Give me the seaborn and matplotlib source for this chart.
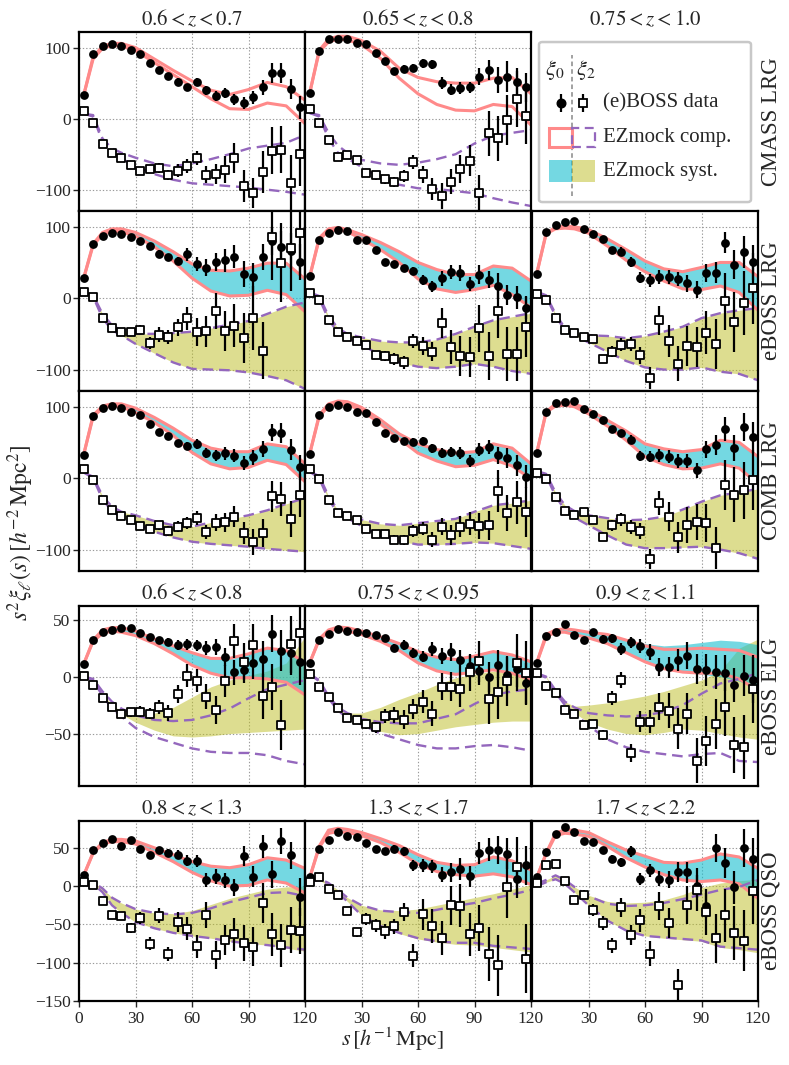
import numpy as np
import pandas as pd
import matplotlib
matplotlib.use("Agg")
import matplotlib.pyplot as plt
import seaborn as sns
from matplotlib.patches import Rectangle, FancyBboxPatch

# ---------------- data ----------------
S_BIN = [2.5, 7.5, 12.5, 17.5, 22.5, 27.5, 32.5, 37.5, 42.5, 47.5, 52.5, 57.5,
         62.5, 67.5, 72.5, 77.5, 82.5, 87.5, 92.5, 97.5, 102.5, 107.5, 112.5, 117.5]
S_LINE = [2.5, 7.5, 12.5, 17.5, 22.5, 30, 40, 50, 60, 70, 80, 90, 100, 110, 120]

ROW_LABELS = ["CMASS LRG", "eBOSS LRG", "COMB LRG", "eBOSS ELG", "eBOSS QSO"]
TITLES_LRG = [r"$0.6 < z < 0.7$", r"$0.65 < z < 0.8$", r"$0.75 < z < 1.0$"]
TITLES_ELG = [r"$0.6 < z < 0.8$", r"$0.75 < z < 0.95$", r"$0.9 < z < 1.1$"]
TITLES_QSO = [r"$0.8 < z < 1.3$", r"$1.3 < z < 1.7$", r"$1.7 < z < 2.2$"]
LEGEND_LABELS = ["(e)BOSS data", "EZmock comp.", "EZmock syst."]

# CMASS LRG, 0.6<z<0.7
CM1_X0 = [33.8, 91.5, 102.8, 105, 102, 96.7, 91, 79, 68, 59.6, 51.6, 44, 51.6, 40, 32, 36.6, 27, 22, 30, 44, 64, 64, 42, 16]
CM1_E0 = [2, 3, 3, 3, 3, 3, 3, 3, 3, 4, 5, 5, 6, 6, 7, 7, 8, 9, 9, 10, 14, 14, 14, 16]
CM1_X2 = [11.3, -6, -35, -48, -55, -65, -74, -71, -69.5, -79, -73, -67, -55, -79, -78, -72, -55, -95, -105, -75, -45, -44, -91, -50]
CM1_E2 = [2, 2, 3, 3, 4, 4, 5, 6, 7, 7, 9, 10, 10, 12, 14, 19, 21, 23, 21, 30, 33, 33, 40, 45]
CM1_C0H = [33, 87, 102, 106, 106, 100, 84, 68, 53, 40, 34, 41, 51, 45, 26]
CM1_C0L = [33, 84, 99, 103, 102, 96, 79, 62, 45, 28, 14, 13, 22, 18, -7]
CM1_C2H = [7, 5, -28, -42, -48, -55, -63, -67, -63, -57, -50, -42, -38, -34, -23]
CM1_C2L = [7, 3, -33, -48, -56, -67, -78, -86, -91, -93, -95, -97, -100, -103, -107]

# CMASS LRG, 0.65<z<0.8
CM2_X0 = [35.7, 95.8, 112, 112, 111.7, 106, 105, 93, 81.7, 67, 70, 71, 78, 76.5, 50, 41, 43, 44, 59, 68.5, 54.5, 59, 52, 44]
CM2_E0 = [2, 3, 3, 3, 3, 3, 3, 3, 4, 4, 6, 6, 6, 6, 8, 8, 8, 8, 12, 14, 18, 22, 20, 20]
CM2_X2 = [13, -6, -30.5, -54.5, -51.6, -58.7, -76, -80, -85.4, -88.7, -80.8, -61.5, -78, -99, -109, -88.7, -71, -59, -104, -20.7, -27.7, -2, 27.7, 4.2]
CM2_E2 = [2, 2, 3, 3, 4, 4, 5, 6, 6, 7, 8, 10, 12, 15, 18, 18, 20, 22, 25, 32, 32, 35, 40, 40]
CM2_C0H = [36, 96, 112, 116, 116, 110, 95, 71, 58, 52, 50, 50, 57, 58, 35]
CM2_C0L = [36, 94, 108, 112, 111, 104, 85, 57, 35, 20, 12, 11, 20, 17, -9]
CM2_C2H = [8, 5, -20, -38, -48, -58, -63, -65, -62, -57, -50, -35, -24, -20, -16]
CM2_C2L = [8, 3, -28, -48, -56, -68, -84, -93, -98, -99, -102, -105, -112, -118, -123]

# eBOSS LRG
LR1_X0 = [27.6, 76, 87, 91.6, 90, 85, 80, 73, 61.7, 57, 52, 61.7, 47.7, 42.5, 50.5, 52.8, 58, 33.6, 29, 57.5, 80, 72, 66, 51]
LR1_E0 = [2, 3, 3, 3, 3, 3, 4, 4, 5, 5, 6, 9, 10, 12, 13, 16, 16, 18, 20, 18, 20, 22, 25, 25]
LR1_X2 = [8.4, 1.9, -27.6, -42.5, -48, -47, -44, -62.6, -51, -54, -41, -28, -47.7, -46.7, -18, -45.8, -38.8, -55.6, -28, -73.8, 85, 49.5, 69.6, 90.6]
LR1_E2 = [2, 2, 3, 4, 4, 5, 6, 8, 10, 10, 12, 16, 20, 22, 25, 28, 30, 35, 45, 40, 60, 55, 60, 60]
LR1_C0H = [28, 76, 92, 97, 97, 92, 80, 65, 48, 39, 38, 42, 49, 49, 27]
LR1_C0L = [28, 74, 89, 94, 93, 87, 72, 52, 28, 10, 3, 4, 11, 5, -19]
LR1_C2H = [8, 4, -22, -38, -45, -50, -50, -49, -47, -42, -37, -32, -22, -12, -6]
LR1_C2L = [8, 2, -28, -45, -52, -64, -77, -90, -99, -100, -101, -104, -109, -115, -127]

LR2_X0 = [30.4, 82, 91, 95, 94, 81, 81, 68, 51, 47.7, 41.6, 37.9, 24.8, 16.4, 27.6, 37, 35.5, 20, 33, 25.7, 16.8, 3.7, 1.4, -13.6]
LR2_E0 = [2, 3, 3, 3, 3, 3, 3, 3, 4, 4, 5, 6, 7, 8, 10, 10, 11, 10, 13, 12, 18, 14, 16, 16]
LR2_X2 = [7.5, -2, -30.4, -47.7, -54, -60, -65, -80, -81, -85.5, -89.7, -60, -67, -75, -35.5, -68, -81, -83, -42.5, -81, -18.7, -78, -78.5, -40.7]
LR2_E2 = [2, 2, 3, 3, 3, 4, 4, 5, 7, 8, 9, 10, 12, 13, 21, 24, 28, 28, 33, 33, 37, 38, 38, 42]
LR2_C0H = [30, 84, 97, 99, 96, 89, 78, 65, 50, 40, 33, 33, 45, 42, 24]
LR2_C0L = [30, 82, 94, 96, 93, 83, 68, 50, 27, 13, 8, 12, 18, 5, -13]
LR2_C2H = [8, 3, -25, -42, -50, -55, -60, -62, -62, -58, -50, -40, -31, -26, -21]
LR2_C2L = [8, 0, -30, -48, -56, -65, -80, -90, -96, -98, -96, -92, -96, -102, -106]

LR3_X0 = [33.6, 92.5, 103, 106.5, 108.4, 97, 90, 82.7, 67, 65, 50.5, 28.5, 25, 30, 30, 27, 20.6, 12, 35.5, 35.5, 77.6, 47, 64.5, 50]
LR3_E0 = [2, 3, 3, 3, 3, 3, 3, 3, 5, 6, 7, 8, 9, 10, 10, 10, 12, 12, 13, 15, 15, 20, 22, 25]
LR3_X2 = [5.6, -3.3, -28, -45, -49.5, -54, -57.5, -85, -75, -65.4, -64.5, -80, -112, -31, -60, -91.6, -67, -69, -48.6, -64, -4.2, -33.6, -7, 13.6]
LR3_E2 = [2, 2, 3, 3, 3, 4, 4, 6, 8, 9, 10, 12, 15, 20, 23, 25, 28, 28, 30, 35, 40, 42, 45, 50]
LR3_C0H = [34, 91, 99, 101, 100, 96, 83, 68, 52, 41, 37, 43, 50, 50, 30]
LR3_C0L = [34, 90, 97, 98, 97, 91, 73, 53, 37, 24, 13, 12, 17, 8, -17]
LR3_C2H = [9, 4, -22, -42, -48, -52, -53, -56, -53, -47, -40, -28, -21, -17, -14]
LR3_C2L = [9, 2, -25, -45, -52, -62, -75, -88, -97, -100, -100, -97, -103, -106, -115]

# COMB LRG
CO1_X0 = [33, 87, 98.6, 100.5, 97.7, 92, 88, 75.7, 64.5, 59, 49, 45, 47.7, 34.6, 32, 35, 31.3, 21, 29, 41, 64.5, 63.5, 39.7, 15]
CO1_E0 = [2, 3, 3, 3, 3, 3, 3, 3, 3, 4, 5, 6, 7, 7, 8, 9, 9, 10, 11, 11, 12, 14, 15, 18]
CO1_X2 = [12.6, -2.8, -31.3, -45.3, -53, -59, -67, -71, -66, -74, -68, -63, -56, -75, -62.6, -62, -54, -77, -89, -77, -25.7, -29.4, -57.5, -24.3]
CO1_E2 = [2, 2, 3, 3, 3, 4, 4, 5, 6, 7, 8, 8, 10, 10, 12, 13, 15, 15, 18, 20, 22, 24, 25, 30]
CO1_C0H = [33, 88, 101, 104, 104, 98, 85, 70, 53, 42, 37, 37, 48, 44, 20]
CO1_C0L = [33, 86, 98, 101, 100, 92, 78, 60, 36, 20, 13, 15, 25, 19, -5]
CO1_C2H = [8, 2, -25, -40, -47, -52, -60, -66, -68, -62, -57, -52, -45, -36, -28]
CO1_C2L = [8, 0, -30, -46, -55, -63, -75, -83, -89, -92, -94, -96, -99, -101, -103]

CO2_X0 = [33.6, 88, 100, 103, 100, 93, 90.6, 78, 62.6, 56.5, 52, 51, 52, 41.6, 34.6, 37, 35.5, 24, 40, 44, 32, 27.6, 18, 2]
CO2_E0 = [2, 3, 3, 3, 3, 3, 3, 3, 3, 4, 4, 5, 6, 6, 7, 7, 8, 9, 9, 10, 12, 14, 15, 16]
CO2_X2 = [13, -1.4, -30.4, -48.6, -53, -59, -70.6, -77.6, -78, -86, -87, -74, -70.6, -86, -68, -80, -68, -63.6, -67, -66, -18, -48.6, -34, -47]
CO2_E2 = [2, 2, 3, 3, 3, 4, 4, 5, 5, 6, 7, 8, 9, 10, 12, 14, 15, 16, 18, 20, 30, 25, 30, 35]
CO2_C0H = [34, 88, 104, 108, 107, 99, 82, 62, 48, 40, 35, 37, 48, 42, 20]
CO2_C0L = [34, 86, 101, 104, 103, 95, 76, 55, 35, 24, 16, 18, 26, 17, -1]
CO2_C2H = [9, 3, -25, -45, -52, -58, -64, -66, -63, -60, -57, -47, -38, -35, -31]
CO2_C2L = [9, 0, -30, -49, -56, -67, -80, -88, -93, -93, -92, -90, -91, -95, -99]

CO3_X0 = [34.6, 92, 104.7, 107, 108, 96.7, 90, 82, 68.7, 62.6, 54, 31.3, 30, 32, 30, 23.8, 23.8, 10.7, 40.6, 46, 68.7, 42.5, 71.5, 57]
CO3_E0 = [2, 3, 3, 3, 3, 3, 3, 3, 3, 4, 6, 7, 8, 9, 9, 10, 10, 11, 12, 14, 17, 18, 20, 22]
CO3_X2 = [7.5, -1.9, -26, -46.7, -51.9, -47.7, -59, -82, -66, -57.5, -68, -74, -113.5, -35, -53.7, -82.7, -66, -61, -62.6, -97.7, -9.8, -23, -17, -2.3]
CO3_E2 = [2, 2, 3, 3, 3, 4, 4, 6, 8, 9, 10, 11, 14, 17, 20, 22, 25, 25, 27, 30, 35, 38, 40, 42]
CO3_C0H = [35, 93, 104, 106, 104, 96, 81, 66, 48, 41, 37, 40, 53, 50, 30]
CO3_C0L = [35, 92, 101, 102, 100, 90, 73, 53, 30, 19, 13, 14, 20, 14, -8]
CO3_C2H = [10, 6, -20, -38, -46, -52, -56, -59, -58, -54, -44, -33, -24, -20, -15]
CO3_C2L = [10, 3, -25, -45, -55, -66, -80, -93, -98, -98, -97, -96, -100, -105, -113]

# eBOSS ELG
EG1_X0 = [11, 31.9, 38.9, 41.2, 42.7, 42.7, 38.3, 34.5, 31.9, 30.4, 27.8, 28.4, 27.5, 25.4, 25.7, 17.3, 3.8, 6.1, 12, 15.5, 37.7, 22.8, 21, 12.9]
EG1_E0 = [1.5, 1.5, 1.5, 1.5, 1.5, 2, 2, 2.5, 3, 3.5, 4, 5, 5, 6, 7, 8, 11, 12, 14, 16, 16, 18, 20, 20]
EG1_X2 = [0.3, -7.3, -18.7, -26.6, -32.7, -31.3, -30.7, -32.5, -26.9, -31.9, -15.5, 0.9, -3.5, -17.5, -29.2, -4.1, 31.6, 13.2, 28, -17.3, -9, -42.7, 28.6, 38.3]
EG1_E2 = [1, 1, 1.5, 2, 3, 4, 5, 5, 6, 7, 8, 10, 10, 11, 12, 14, 15, 16, 18, 20, 20, 22, 25, 28]
EG1_C0H = [11, 32, 41, 43, 43, 40, 33, 27, 21, 16, 16, 20, 25, 23, 12]
EG1_C0L = [11, 31, 38, 40, 39, 36, 29, 20, 10, 3, -1, -1, -2, -5, -16]
EG1_C2H = [0, -2, -13, -22, -28, -34, -38, -39, -38, -34, -28, -19, -11, -7, -3]
EG1_C2L = [0, -3, -17, -28, -35, -45, -53, -58, -63, -66, -67, -67, -69, -74, -77]
EG1_B2H = [0, -2, -14, -25, -30, -33, -32, -27, -18, -9, -3, 1, 5, 12, 35]
EG1_B2L = [0, -3, -16, -27, -33, -40, -47, -52, -53, -52, -50, -49, -48, -47, -46]

EG2_X0 = [12, 32.2, 37.7, 42.1, 40.4, 39.2, 38, 36.3, 33.6, 25.1, 27.8, 20.8, 17.5, 24.3, 18.4, 21.6, 14.3, 9, 4.7, -0.3, 10.2, 1.8, 7, -5.8]
EG2_E0 = [1.5, 1.5, 1.5, 1.5, 1.5, 1.5, 2, 2, 3, 3.5, 4, 4.5, 5, 6, 7, 8, 9, 10, 12, 13, 13, 15, 16, 18]
EG2_X2 = [2, -9.4, -17.8, -27.5, -36.5, -38.3, -41.8, -44.4, -34.8, -33.3, -37.7, -28.4, -21.9, -32.7, -8.8, -8.8, -10.8, 3.8, 13.5, -20, -13.5, -4.1, 12, 3.5]
EG2_E2 = [1, 1, 1.5, 2, 3, 3.5, 4, 5, 6, 7, 8, 9, 10, 11, 12, 13, 16, 16, 18, 22, 24, 22, 25, 28]
EG2_C0H = [12, 33, 41, 43.5, 43, 40, 35, 29, 22, 17, 15, 18, 22, 19, 13]
EG2_C0L = [12, 32, 40, 42, 40, 37, 31, 23, 12, 5, 2, 4, 6, 3, -3]
EG2_C2H = [2, -3, -17, -27, -32, -37, -40, -41, -41, -37, -33, -24, -16, -13, -11]
EG2_C2L = [2, -4, -19, -30, -36, -42, -50, -55, -60, -63, -63, -61, -60, -62, -65]
EG2_B2H = [2, -3, -17, -28, -32, -32, -27, -20, -14, -7, -1, 2, 5, 3, -1]
EG2_B2L = [2, -4, -19, -30, -36, -42, -48, -51, -50, -47, -44, -42, -40, -39, -39]

EG3_X0 = [12, 35.7, 39.5, 46.5, 36.5, 32.5, 38.9, 33.3, 33.6, 24.3, 30.1, 26.6, 22, 8.2, 8.2, 14.6, 18.4, 6.7, 5.8, 3.8, 3.2, -7.6, 0.9, -3.2]
EG3_E0 = [1.5, 1.5, 1.5, 1.5, 1.5, 2, 2, 3, 4, 5, 5, 6, 7, 8, 9, 10, 12, 13, 14, 15, 16, 15, 18, 20]
EG3_X2 = [2.9, -8.5, -14.3, -29.2, -32.5, -42.4, -41.5, -51.2, -19, -2.6, -67, -39.5, -39.5, -26.3, -29.8, -45.6, -32.7, -73.7, -56.7, -41.8, -26.9, -60, -62, -11.1]
EG3_E2 = [1, 1, 1.5, 2, 2.5, 3, 3.5, 4, 6, 7, 8, 9, 10, 12, 15, 18, 18, 20, 22, 22, 25, 25, 28, 30]
EG3_C0H = [12, 37, 41, 42, 41, 39, 37, 32, 27, 24, 24, 25, 24, 23, 17]
EG3_C0L = [12, 35, 39, 39, 37, 34, 29, 21, 13, 7, 4, 3, 3, -2, -12]
EG3_B0H = [12, 37, 41, 42, 41, 39, 37, 33, 29, 27, 28, 30, 32, 31, 28]
EG3_B0L = [12, 35, 39, 39, 37, 34, 29, 21, 13, 7, 4, 2, 0, -4, -10]
EG3_C2H = [3, 0, -12, -22, -27, -32, -34, -35, -34, -31, -25, -15, -6, -2, 3]
EG3_C2L = [3, -1, -14, -25, -32, -43, -55, -62, -66, -68, -70, -68, -67, -74, -75]
EG3_B2H = [3, 0, -12, -22, -26, -25, -23, -20, -17, -13, -8, -3, 5, 25, 33]
EG3_B2L = [3, -1, -14, -26, -32, -40, -46, -50, -51, -49, -46, -47, -50, -53, -55]

# eBOSS QSO
QS1_X0 = [14.3, 47, 56, 61.7, 52, 60, 49, 40.4, 47.4, 43, 40.9, 33, 33, 8.3, 12.2, 7.4, -1.3, 39, 12.2, 52, 15.2, 58.7, 40, -14]
QS1_E0 = [3, 3, 3, 3, 3, 3, 3, 4, 4, 5, 6, 7, 8, 9, 10, 10, 11, 13, 14, 15, 18, 17, 18, 25]
QS1_X2 = [5.2, 1.7, -19, -37.4, -38.7, -54.8, -42, -75, -38.7, -88.7, -46.5, -55.7, -78.7, -38.3, -90, -70.4, -63, -74.3, -79, -22, -62.6, -77.4, -57.8, -58.7]
QS1_E2 = [2, 2, 3, 4, 5, 6, 8, 8, 10, 9, 13, 15, 15, 17, 18, 20, 22, 24, 25, 26, 28, 28, 30, 30]
QS1_C0H = [14, 44, 57, 61, 61, 59, 50, 41, 32, 26, 24, 28, 37, 34, 23]
QS1_C0L = [14, 43, 55, 58, 58, 55, 44, 32, 18, 7, 0, 1, 8, 4, -9]
QS1_C2H = [3, 5, -3, -15, -22, -30, -35, -37, -35, -29, -21, -15, -9, -8, -13]
QS1_C2L = [3, 3, -8, -25, -35, -47, -55, -61, -65, -68, -72, -75, -77, -80, -83]
QS1_B2H = [3, 5, -3, -15, -22, -30, -35, -36, -32, -24, -16, -10, -4, -1, 0]
QS1_B2L = [3, 3, -8, -25, -35, -47, -55, -61, -65, -68, -72, -75, -77, -81, -85]

QS2_X0 = [11.3, 48.7, 60.4, 70.4, 66, 64, 56, 48.3, 45.2, 48.7, 45.7, 27, 27, 25.7, 14.8, 17.8, 22.2, 12.6, 43, 47.4, 47.4, 42.2, 9.1, 27]
QS2_E0 = [3, 3, 3, 3, 3, 3, 3, 4, 4, 5, 6, 7, 8, 9, 10, 13, 14, 14, 14, 15, 18, 20, 20, 25]
QS2_X2 = [4.8, 11.3, -4, -11.7, -32, -60.4, -43, -51.3, -59, -52.6, -34, -90.9, -37, -51.7, -67.4, -25.2, -25.7, -62.6, -54.8, -88.3, -103.5, -1.7, 24.3, -94.8]
QS2_E2 = [2, 2, 3, 4, 5, 6, 8, 9, 10, 10, 12, 15, 20, 22, 22, 25, 28, 28, 30, 35, 40, 40, 40, 45]
QS2_C0H = [11, 52, 73, 75.5, 74, 70, 62, 53, 41, 31, 27, 28, 38, 33, 21]
QS2_C0L = [11, 50, 69, 71, 70, 66, 57, 44, 29, 19, 15, 13, 16, 12, 2]
QS2_C2H = [6, 10, 4, -5, -15, -25, -32, -34, -35, -31, -26, -22, -16, -11, -5]
QS2_C2L = [6, 8, 0, -9, -20, -38, -52, -61, -68, -72, -74, -74, -78, -80, -82]
QS2_B2H = [6, 10, 4, -5, -15, -25, -31, -32, -30, -25, -20, -15, -10, -4, 2]
QS2_B2L = [6, 8, 0, -9, -20, -38, -52, -62, -69, -73, -76, -77, -80, -83, -86]

QS3_X0 = [11.3, 44.3, 67.8, 77.8, 70.4, 59, 57, 46.5, 36, 31.3, 45.2, 9.6, 20.4, 9.6, 8.3, 18.7, 17.8, -0.4, -25.6, 49.6, 30, -1.7, 49.6, 35.2]
QS3_E0 = [3, 3, 3, 3, 3, 3, 3, 4, 5, 6, 7, 8, 9, 10, 11, 13, 14, 15, 16, 18, 20, 22, 25, 28]
QS3_X2 = [4.3, 27, 29, 7, -18.3, -11.3, -30.9, -48.3, -77.4, -27.8, -64.3, -44.8, -88.3, -25.7, -48.3, -129.6, -24.8, -4.8, -33.5, -67.8, -38.3, -61.3, -71.3, -7]
QS3_E2 = [3, 3, 3, 4, 5, 6, 8, 9, 10, 12, 13, 15, 16, 18, 20, 22, 25, 28, 30, 32, 35, 35, 40, 42]
QS3_C0H = [11, 43, 69, 73.5, 73, 70, 58, 47, 39, 31, 30, 34, 42, 38, 23]
QS3_C0L = [11, 42, 66, 69, 68, 65, 52, 37, 25, 15, 8, 6, 8, 3, -16]
QS3_C2H = [3, 8, 14, 8, -1, -13, -23, -26, -25, -22, -17, -11, -5, -1, 8]
QS3_C2L = [0, 5, 9, 3, -8, -25, -45, -58, -65, -67, -69, -71, -79, -81, -83]
QS3_B2H = [3, 8, 14, 8, -1, -12, -20, -22, -21, -18, -11, -2, 4, 7, 9]
QS3_B2L = [0, 5, 9, 3, -8, -25, -45, -58, -65, -68, -70, -72, -80, -83, -87]

# ---------------- style ----------------
PINK = "#ff8a8a"
PURPLE = "#9467bd"
CYAN = "#17becf"
OLIVE = "#bcbd22"

sns.set_theme(style="ticks")
plt.rcParams["font.family"] = ["Liberation Serif", "DejaVu Serif"]
plt.rcParams["mathtext.fontset"] = "stix"
plt.rcParams["axes.unicode_minus"] = True

W, H = 789, 1065
fig = plt.figure(figsize=(W / 100, H / 100), dpi=100)

COL_LEFT = [79, 305, 532]
COL_W = 226
ROW_SPAN = [(32, 211), (211, 391), (391, 571), (606, 786), (821, 1001)]
ROW_YLIM = [(-130, 122), (-130, 122), (-130, 122), (-96, 62), (-150, 85)]
ROW_YTICKS = [[-100, 0, 100], [-100, 0, 100], [-100, 0, 100], [-50, 0, 50], [-150, -100, -50, 0, 50]]

TITLE_FS = 15
TICK_FS = 12.5
ROWLAB_FS = 16.5
AXLAB_FS = 16
LEG_FS = 15


def make_ax(r, c):
    t, b = ROW_SPAN[r]
    return fig.add_axes([COL_LEFT[c] / W, 1 - b / H, COL_W / W, (b - t) / H])


def def_or(v, d):
    return d if v is None else v


PANELS = [
    dict(r=0, c=0, x0=CM1_X0, e0=CM1_E0, x2=CM1_X2, e2=CM1_E2, c0h=CM1_C0H, c0l=CM1_C0L, c2h=CM1_C2H, c2l=CM1_C2L, band=False),
    dict(r=0, c=1, x0=CM2_X0, e0=CM2_E0, x2=CM2_X2, e2=CM2_E2, c0h=CM2_C0H, c0l=CM2_C0L, c2h=CM2_C2H, c2l=CM2_C2L, band=False),
    dict(r=1, c=0, x0=LR1_X0, e0=LR1_E0, x2=LR1_X2, e2=LR1_E2, c0h=LR1_C0H, c0l=LR1_C0L, c2h=LR1_C2H, c2l=LR1_C2L, band=True),
    dict(r=1, c=1, x0=LR2_X0, e0=LR2_E0, x2=LR2_X2, e2=LR2_E2, c0h=LR2_C0H, c0l=LR2_C0L, c2h=LR2_C2H, c2l=LR2_C2L, band=True),
    dict(r=1, c=2, x0=LR3_X0, e0=LR3_E0, x2=LR3_X2, e2=LR3_E2, c0h=LR3_C0H, c0l=LR3_C0L, c2h=LR3_C2H, c2l=LR3_C2L, band=True),
    dict(r=2, c=0, x0=CO1_X0, e0=CO1_E0, x2=CO1_X2, e2=CO1_E2, c0h=CO1_C0H, c0l=CO1_C0L, c2h=CO1_C2H, c2l=CO1_C2L, band=True),
    dict(r=2, c=1, x0=CO2_X0, e0=CO2_E0, x2=CO2_X2, e2=CO2_E2, c0h=CO2_C0H, c0l=CO2_C0L, c2h=CO2_C2H, c2l=CO2_C2L, band=True),
    dict(r=2, c=2, x0=CO3_X0, e0=CO3_E0, x2=CO3_X2, e2=CO3_E2, c0h=CO3_C0H, c0l=CO3_C0L, c2h=CO3_C2H, c2l=CO3_C2L, band=True),
    dict(r=3, c=0, x0=EG1_X0, e0=EG1_E0, x2=EG1_X2, e2=EG1_E2, c0h=EG1_C0H, c0l=EG1_C0L, c2h=EG1_C2H, c2l=EG1_C2L, band=True,
         b2h=EG1_B2H, b2l=EG1_B2L),
    dict(r=3, c=1, x0=EG2_X0, e0=EG2_E0, x2=EG2_X2, e2=EG2_E2, c0h=EG2_C0H, c0l=EG2_C0L, c2h=EG2_C2H, c2l=EG2_C2L, band=True,
         b2h=EG2_B2H, b2l=EG2_B2L),
    dict(r=3, c=2, x0=EG3_X0, e0=EG3_E0, x2=EG3_X2, e2=EG3_E2, c0h=EG3_C0H, c0l=EG3_C0L, c2h=EG3_C2H, c2l=EG3_C2L, band=True,
         b0h=EG3_B0H, b0l=EG3_B0L, b2h=EG3_B2H, b2l=EG3_B2L),
    dict(r=4, c=0, x0=QS1_X0, e0=QS1_E0, x2=QS1_X2, e2=QS1_E2, c0h=QS1_C0H, c0l=QS1_C0L, c2h=QS1_C2H, c2l=QS1_C2L, band=True,
         b2h=QS1_B2H, b2l=QS1_B2L),
    dict(r=4, c=1, x0=QS2_X0, e0=QS2_E0, x2=QS2_X2, e2=QS2_E2, c0h=QS2_C0H, c0l=QS2_C0L, c2h=QS2_C2H, c2l=QS2_C2L, band=True,
         b2h=QS2_B2H, b2l=QS2_B2L),
    dict(r=4, c=2, x0=QS3_X0, e0=QS3_E0, x2=QS3_X2, e2=QS3_E2, c0h=QS3_C0H, c0l=QS3_C0L, c2h=QS3_C2H, c2l=QS3_C2L, band=True,
         b2h=QS3_B2H, b2l=QS3_B2L),
]


def style_axes(ax, r, c):
    ax.set_xlim(0, 120)
    ax.set_ylim(*ROW_YLIM[r])
    ax.set_yticks(ROW_YTICKS[r])
    ax.set_xticks([0, 30, 60, 90, 120] if c == 0 else [30, 60, 90, 120])
    ax.grid(True, ls=(0, (1.2, 1.8)), color="#9a9a9a", lw=0.8)
    ax.set_axisbelow(True)
    for sp in ax.spines.values():
        sp.set_linewidth(1.6)
        sp.set_color("black")
        sp.set_visible(True)
    ax.tick_params(axis="y", direction="out", length=4 if c == 0 else 0, width=1,
                   labelsize=TICK_FS, labelleft=(c == 0), pad=2)
    ax.tick_params(axis="x", direction="out", length=4 if r == 4 else 0, width=1,
                   labelsize=TICK_FS, labelbottom=(r == 4), pad=3)
    ax.set_xlabel("")
    ax.set_ylabel("")


for p in PANELS:
    r, c = p["r"], p["c"]
    ax = make_ax(r, c)
    ax.set_facecolor("white")
    if p["band"]:
        ax.fill_between(S_LINE, def_or(p.get("b2l"), p["c2l"]), def_or(p.get("b2h"), p["c2h"]),
                        color=OLIVE, alpha=0.5, lw=0, zorder=1)
        ax.fill_between(S_LINE, def_or(p.get("b0l"), p["c0l"]), def_or(p.get("b0h"), p["c0h"]),
                        color=CYAN, alpha=0.6, lw=0, zorder=1.1)
    for key in ("c0h", "c0l"):
        sns.lineplot(x=S_LINE, y=p[key], ax=ax, color=PINK, lw=2.2, estimator=None,
                     sort=False, legend=False, zorder=2)
    for key in ("c2h", "c2l"):
        sns.lineplot(x=S_LINE, y=p[key], ax=ax, color=PURPLE, lw=1.7, estimator=None,
                     sort=False, legend=False, zorder=2, linestyle=(0, (4.5, 2.5)))
    ax.errorbar(S_BIN, p["x0"], yerr=p["e0"], fmt="none", ecolor="black", elinewidth=1.6, zorder=3)
    ax.errorbar(S_BIN, p["x2"], yerr=p["e2"], fmt="none", ecolor="black", elinewidth=1.6, zorder=3)
    sns.scatterplot(x=S_BIN, y=p["x0"], ax=ax, marker="o", s=40, color="black",
                    edgecolor="black", linewidth=0, zorder=4, legend=False)
    sns.scatterplot(x=S_BIN, y=p["x2"], ax=ax, marker="s", s=32, color="white",
                    edgecolor="black", linewidth=1.3, zorder=4, legend=False)
    style_axes(ax, r, c)
    if r == 0:
        ax.set_title(TITLES_LRG[c], fontsize=TITLE_FS, pad=5)
    elif r == 3:
        ax.set_title(TITLES_ELG[c], fontsize=TITLE_FS, pad=5)
    elif r == 4:
        ax.set_title(TITLES_QSO[c], fontsize=TITLE_FS, pad=5)
    if c == 2:
        ax.text(1.058, 0.5, ROW_LABELS[r], transform=ax.transAxes, rotation=90,
                ha="center", va="center", fontsize=ROWLAB_FS)

# ---------------- legend panel (top right) ----------------
lax = make_ax(0, 2)
lax.set_xlim(0, 1)
lax.set_ylim(0, 1)
lax.axis("off")
lax.set_title(TITLES_LRG[2], fontsize=TITLE_FS, pad=5)
lax.text(1.058, 0.5, ROW_LABELS[0], transform=lax.transAxes, rotation=90,
         ha="center", va="center", fontsize=ROWLAB_FS)
frame = FancyBboxPatch((0.031, 0.05), 0.938, 0.894, boxstyle="round,pad=0,rounding_size=0.015",
                       fc="white", ec="#c8c8c8", lw=1.8, zorder=0)
lax.add_patch(frame)
lax.plot([0.177, 0.177], [0.085, 0.87], ls=(0, (3, 2)), color="#888888", lw=1.1, zorder=1)
lax.text(0.100, 0.79, r"$\xi_0$", ha="center", va="center", fontsize=16)
lax.text(0.240, 0.79, r"$\xi_2$", ha="center", va="center", fontsize=16)
lax.errorbar([0.128], [0.603], yerr=[0.05], fmt="o", color="black", ms=6.2,
             elinewidth=1.6, zorder=3)
lax.errorbar([0.226], [0.603], yerr=[0.05], fmt="s", mfc="white", mec="black", mew=1.3,
             ms=5.3, ecolor="black", elinewidth=1.6, zorder=3)
lax.add_patch(Rectangle((0.075, 0.355), 0.102, 0.106, fill=False, ec=PINK, lw=2.2, zorder=2))
lax.add_patch(Rectangle((0.177, 0.355), 0.102, 0.106, fill=False, ec=PURPLE, lw=1.6,
                        ls=(0, (4, 2.5)), zorder=2))
lax.add_patch(Rectangle((0.075, 0.16), 0.102, 0.125, fc=CYAN, alpha=0.6, lw=0, zorder=2))
lax.add_patch(Rectangle((0.177, 0.16), 0.102, 0.125, fc=OLIVE, alpha=0.5, lw=0, zorder=2))
for yy, lab in zip([0.603, 0.408, 0.222], LEGEND_LABELS):
    lax.text(0.314, yy, lab, ha="left", va="center", fontsize=LEG_FS)

# ---------------- global labels ----------------
fig.text(0.026, 0.5, r"$s^2\xi_\ell(s)\,[h^{-2}\,\mathrm{Mpc}^2]$", rotation=90,
         ha="center", va="center", fontsize=17)
fig.text(0.498, 0.024, r"$s\,[h^{-1}\,\mathrm{Mpc}]$", ha="center", va="center", fontsize=AXLAB_FS)

fig.savefig("out.png", dpi=100, facecolor="white")
